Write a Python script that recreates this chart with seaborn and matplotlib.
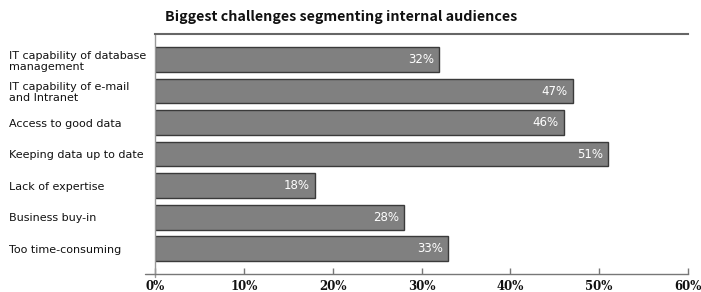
import matplotlib
matplotlib.use("Agg")
import matplotlib.pyplot as plt
import seaborn as sns
import pandas as pd
from matplotlib.lines import Line2D

categories = [
    "IT capability of database\nmanagement",
    "IT capability of e-mail\nand Intranet",
    "Access to good data",
    "Keeping data up to date",
    "Lack of expertise",
    "Business buy-in",
    "Too time-consuming",
]
values = [32, 47, 46, 51, 18, 28, 33]
xticks = [0, 10, 20, 30, 40, 50, 60]
xtick_labels = ["0%", "10%", "20%", "30%", "40%", "50%", "60%"]
title = "Biggest challenges segmenting internal audiences"

df = pd.DataFrame({"category": categories, "value": values})

sns.set_style("white")
fig = plt.figure(figsize=(7.01, 2.92), dpi=100)
ax = fig.add_axes([155/701, 18/292, 533/701, 240/292])

sns.barplot(data=df, x="value", y="category", orient="h", ax=ax,
            color="#808080", saturation=1, width=0.78,
            edgecolor="#3a3a3a", linewidth=1)

ax.set_xlim(0, 60)
ax.set_ylim(6.80, -0.81)
ax.set_xlabel("")
ax.set_ylabel("")

ax.set_xticks(xticks)
ax.set_xticklabels(xtick_labels, fontfamily="DejaVu Serif", fontweight="bold",
                   fontsize=8.5, color="#111111")
ax.tick_params(axis="x", direction="in", length=4, width=1, color="#777777",
               pad=4, bottom=True)
ax.tick_params(axis="y", length=0, pad=105)
for lab in ax.get_yticklabels():
    lab.set_horizontalalignment("left")
    lab.set_fontsize(8)
    lab.set_fontfamily("DejaVu Sans")
    lab.set_color("#111111")
    lab.set_linespacing(1.15)

ax.spines["right"].set_visible(False)
ax.spines["top"].set_color("#666666")
ax.spines["top"].set_linewidth(1.5)
ax.spines["left"].set_color("#999999")
ax.spines["left"].set_linewidth(1)
ax.spines["bottom"].set_color("#777777")
ax.spines["bottom"].set_linewidth(1)

# extend bottom axis line to the left, and left axis slightly below
ax.add_line(Line2D([-10/533, 0], [0, 0], transform=ax.transAxes,
                   color="#777777", lw=1, clip_on=False))
ax.add_line(Line2D([0, 0], [0, -3/240], transform=ax.transAxes,
                   color="#999999", lw=1, clip_on=False))

for i, v in enumerate(values):
    ax.annotate(f"{v}%", xy=(v, i), xytext=(-3.5, 0), textcoords="offset points",
                ha="right", va="center", color="white", fontsize=8.5,
                fontfamily="DejaVu Sans")

fig.text(165/701, 1 - 17/292, title, ha="left", va="center", fontsize=10.3,
         fontweight="semibold", fontfamily="Noto Sans CJK JP", color="#111111")

fig.savefig("out.png", dpi=100)
